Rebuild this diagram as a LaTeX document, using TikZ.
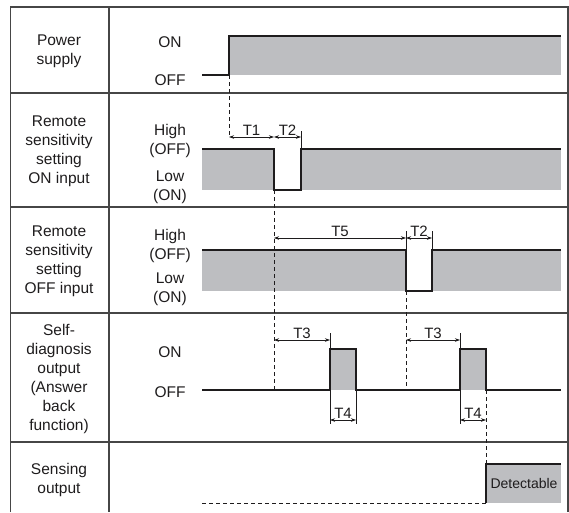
\documentclass[tikz,border=0pt]{standalone}
\usepackage{fontspec}
\setmainfont{Liberation Sans}
\usetikzlibrary{arrows.meta}

\definecolor{sigline}{RGB}{30,28,29}
\definecolor{lvlgray}{RGB}{189,190,193}
\definecolor{gridline}{RGB}{70,70,70}

\tikzset{
  signal/.style={line width=1.6pt, sigline, line join=miter},
  guide/.style={sigline, line width=0.8pt, dash pattern=on 4pt off 3pt},
  dim/.style={sigline, line width=0.6pt, {Stealth[length=5pt,width=3.5pt]}-{Stealth[length=5pt,width=3.5pt]}},
  tick/.style={sigline, line width=0.6pt},
  txt/.style={align=center, font=\fontsize{15.5}{19}\selectfont, text=sigline},
  tlabel/.style={above, inner sep=1.5pt, font=\fontsize{15}{17}\selectfont, text=sigline}
}

\begin{document}
\begin{tikzpicture}[x=1pt, y=-1pt]
    \useasboundingbox (0,0) rectangle (569,512);

    % table
    \draw[gridline, line width=1.2pt] (10.5,512) -- (10.5,7) -- (568,7) -- (568,512);
    \draw[gridline, line width=1.2pt] (109,7) -- (109,512);
    \foreach \yy in {93,207,313,442}
        \draw[gridline, line width=1.2pt] (10.5,\yy) -- (568,\yy);

    % row names
    \node[txt] (power) at (59,51) {Power\\supply};
    \node[txt] (remon) at (59,151) {Remote\\sensitivity\\setting\\ON input};
    \node[txt] (remoff) at (59,261) {Remote\\sensitivity\\setting\\OFF input};
    \node[txt] (selfdiag) at (59,379) {Self-\\diagnosis\\output\\(Answer\\back\\function)};
    \node[txt] (sensing) at (59,480) {Sensing\\output};

    % levels
    \node[txt] (pon) at (170,42) {ON};
    \node[txt] (poff) at (170,80) {OFF};
    \node[txt] (onhigh) at (170,140.5) {High\\(OFF)};
    \node[txt] (onlow) at (170,187.5) {Low\\(ON)};
    \node[txt] (offhigh) at (170,246) {High\\(OFF)};
    \node[txt] (offlow) at (170,289.5) {Low\\(ON)};
    \node[txt] (son) at (170,352) {ON};
    \node[txt] (soff) at (170,392) {OFF};

    % power supply
    \fill[lvlgray] (229,36) rectangle (561,75);
    \draw[signal] (202,75) -- (229,75) -- (229,36) -- (561,36);

    % remote ON input
    \fill[lvlgray] (202,149) rectangle (274,190);
    \fill[lvlgray] (301,149) rectangle (561,190);
    \draw[signal] (202,149) -- (274,149) -- (274,190) -- (301,190) -- (301,149) -- (561,149);

    % remote OFF input
    \fill[lvlgray] (202,250) rectangle (406,291);
    \fill[lvlgray] (432,250) rectangle (561,291);
    \draw[signal] (202,250) -- (406,250) -- (406,291) -- (432,291) -- (432,250) -- (561,250);

    % self-diagnosis
    \fill[lvlgray] (330,349) rectangle (356,390);
    \fill[lvlgray] (460,349) rectangle (486,390);
    \draw[signal] (202,390) -- (330,390) -- (330,349) -- (356,349) -- (356,390) -- (460,390) -- (460,349) -- (486,349) -- (486,390) -- (561,390);

    % sensing
    \fill[lvlgray] (486,464) rectangle (561,503);
    \draw[guide] (202,503) -- (486,503);
    \draw[signal] (486,503) -- (486,464) -- (561,464);
    \node[font=\fontsize{14}{16}\selectfont, text=sigline] (detect) at (524,483) {Detectable};

    % guides
    \draw[guide] (229,75) -- (229,137);
    \draw[guide] (274,190) -- (274,390);
    \draw[guide] (406,291) -- (406,390);
    \draw[guide] (486,390) -- (486,464);

    % ticks
    \draw[tick] (301,131) -- (301,149);
    \draw[tick] (406,231) -- (406,250);
    \draw[tick] (432,231) -- (432,250);
    \draw[tick] (330,333) -- (330,349);
    \draw[tick] (460,333) -- (460,349);
    \draw[tick] (330,390) -- (330,424);
    \draw[tick] (356,390) -- (356,424);
    \draw[tick] (460,390) -- (460,424);

    % timings
    \draw[dim] (229,137) -- node[tlabel] (t1) {T1} (274,137);
    \draw[dim] (274,137) -- node[tlabel] (t2a) {T2} (301,137);
    \draw[dim] (274,238) -- node[tlabel] (t5) {T5} (406,238);
    \draw[dim] (406,238) -- node[tlabel] (t2b) {T2} (432,238);
    \draw[dim] (274,340) -- node[tlabel] (t3a) {T3} (330,340);
    \draw[dim] (406,340) -- node[tlabel] (t3b) {T3} (460,340);
    \draw[dim] (330,420) -- node[tlabel] (t4a) {T4} (356,420);
    \draw[dim] (460,420) -- node[tlabel] (t4b) {T4} (486,420);
\end{tikzpicture}
\end{document}
